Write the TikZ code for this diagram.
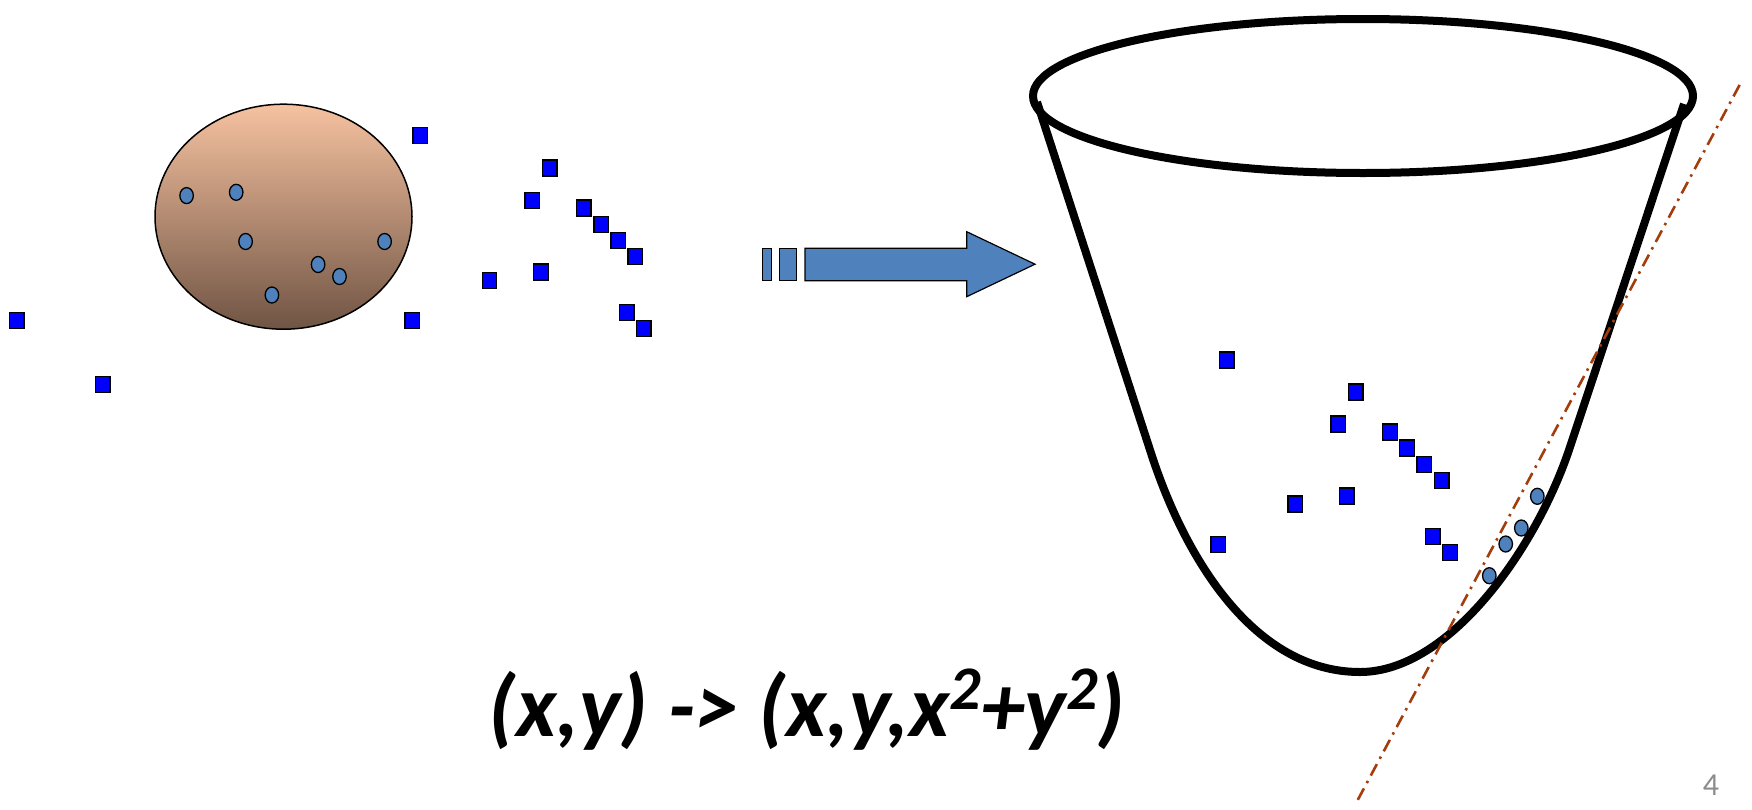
\documentclass[tikz,border=0pt]{standalone}
\usepackage{fontspec}
\setmainfont{Carlito}
\usetikzlibrary{shapes.geometric}
\definecolor{sqblue}{RGB}{0,0,255}
\definecolor{dotblue}{RGB}{79,129,189}
\definecolor{peach}{RGB}{246,194,160}
\definecolor{umber}{RGB}{112,84,68}
\definecolor{rust}{RGB}{163,62,12}
\definecolor{pagegray}{RGB}{140,140,140}
\newcommand\supnum[1]{\raisebox{0.30em}{\fontsize{62}{66}\selectfont #1}}
\begin{document}
\begin{tikzpicture}[x=1pt,y=-1pt,
  sq/.style={rectangle,draw=black,fill=sqblue,line width=1.3pt,minimum width=14.5pt,minimum height=16pt,inner sep=0pt},
  dot/.style={ellipse,draw=black,fill=dotblue,line width=1.3pt,minimum width=13.5pt,minimum height=16pt,inner sep=0pt},
  bowl/.style={draw=black,line width=8pt,line join=round},
  arrowpart/.style={draw=black,fill=dotblue,line width=1.2pt,line join=miter},
  sep/.style={draw=rust,line width=2.6pt,dash pattern=on 13pt off 6pt on 2.5pt off 6pt}]
\useasboundingbox (0,0) rectangle (1752,809);

% left: blob with points
\node[ellipse,draw=black,line width=1.5pt,top color=peach,bottom color=umber,
  minimum width=257pt,minimum height=225pt,inner sep=0pt] (blob) at (283.5,216.7) {};
\node[dot] (c1) at (186.6,195.6) {};
\node[dot] (c2) at (236.2,192.3) {};
\node[dot] (c3) at (245.6,241.5) {};
\node[dot] (c4) at (384.6,241.5) {};
\node[dot] (c5) at (318.1,264.5) {};
\node[dot] (c6) at (339.5,276.5) {};
\node[dot] (c7) at (271.9,295.0) {};

\node[sq] (s1) at (420.1,135.8) {};
\node[sq] (s2) at (16.8,320.7) {};
\node[sq] (s3) at (102.8,384.7) {};
\node[sq] (s4) at (412.3,320.7) {};
\node[sq] (s5) at (549.8,168.0) {};
\node[sq] (s6) at (532.2,200.2) {};
\node[sq] (s7) at (583.6,208.0) {};
\node[sq] (s8) at (601.1,224.4) {};
\node[sq] (s9) at (618.1,240.3) {};
\node[sq] (s10) at (635.1,256.3) {};
\node[sq] (s11) at (489.5,280.5) {};
\node[sq] (s12) at (540.9,271.9) {};
\node[sq] (s13) at (626.8,312.2) {};
\node[sq] (s14) at (643.7,328.8) {};

% arrow
\draw[arrowpart] (762.7,248.3) rectangle (771.7,280.7);
\draw[arrowpart] (779.3,248.3) rectangle (796.7,280.7);
\draw[arrowpart] (805,248.3) -- (966.7,248.3) -- (966.7,231.7) -- (1035,264.2)
  -- (966.7,296.7) -- (966.7,280.7) -- (805,280.7) -- cycle;

% bowl
\draw[bowl] (1363,96) ellipse [x radius=330, y radius=77];
\draw[bowl] (1037,102) -- (1150,450)
  .. controls (1185,560) and (1255,672) .. (1360,672)
  .. controls (1450,672) and (1537,547) .. (1570,447)
  -- (1684,104);

% separating line
\coordinate (l1) at (1739.6,84.9);
\coordinate (l2) at (1355.3,804.5);
\draw[sep] (l1) -- (l2);

% mapped points
\node[sq] (t1) at (1226.7,360.0) {};
\node[sq] (t2) at (1355.7,392.0) {};
\node[sq] (t3) at (1338.3,424.0) {};
\node[sq] (t4) at (1390.0,432.0) {};
\node[sq] (t5) at (1407.0,448.0) {};
\node[sq] (t6) at (1424.3,464.3) {};
\node[sq] (t7) at (1441.7,480.3) {};
\node[sq] (t8) at (1346.7,496.0) {};
\node[sq] (t9) at (1295.3,504.0) {};
\node[sq] (t10) at (1218.3,544.3) {};
\node[sq] (t11) at (1432.7,536.3) {};
\node[sq] (t12) at (1450.0,552.3) {};

\node[dot] (d1) at (1537.3,496.3) {};
\node[dot] (d2) at (1521.3,528.0) {};
\node[dot] (d3) at (1505.7,544.0) {};
\node[dot] (d4) at (1489.3,575.7) {};

% formula
\node[anchor=base,inner sep=0pt] (formula) at (807,736)
  {\fontsize{88}{100}\selectfont\bfseries\itshape (x,y) -> (x,y,x\supnum{2}+y\supnum{2})};

% page number
\node[anchor=base,inner sep=0pt,text=pagegray] (page) at (1711,795)
  {\fontsize{32}{34}\selectfont 4};
\end{tikzpicture}
\end{document}
